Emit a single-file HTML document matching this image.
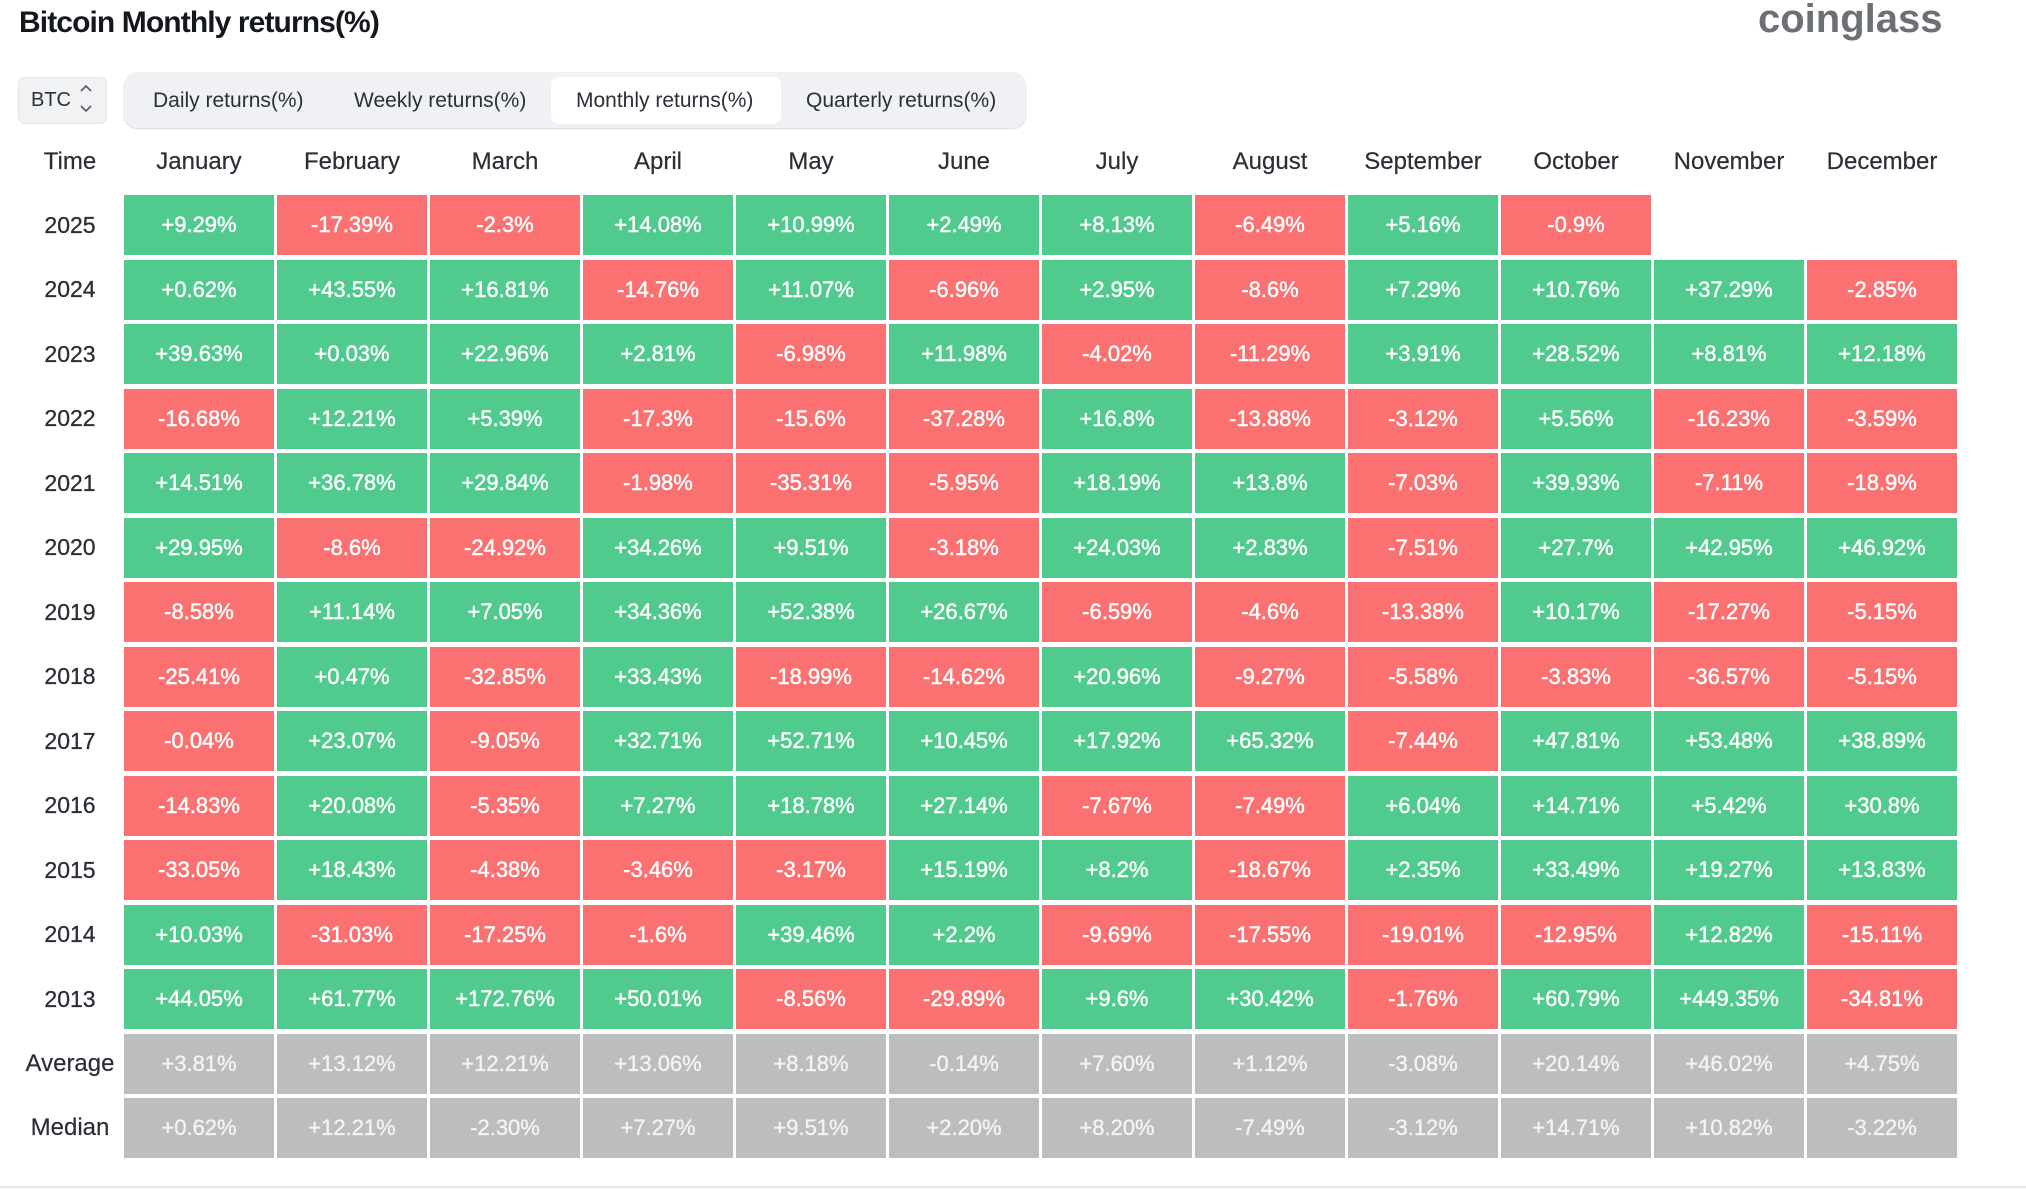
<!DOCTYPE html>
<html><head><meta charset="utf-8">
<style>
*{margin:0;padding:0;box-sizing:border-box}
html,body{width:2026px;height:1189px;background:#fff;overflow:hidden;font-family:"Liberation Sans",sans-serif;position:relative}
.title{position:absolute;left:19px;top:7.6px;font-size:30px;line-height:30px;font-weight:bold;letter-spacing:-0.9px;color:#14181d;white-space:nowrap}
.logo{position:absolute;left:1758px;top:-1px;font-size:40px;line-height:40px;font-weight:bold;color:#6c7075;letter-spacing:0px}
.btc{position:absolute;left:18px;top:77px;width:89px;height:47px;background:#f1f2f4;border:1px solid #e2e4e8;border-radius:7px}
.btc span{position:absolute;left:12px;top:0;line-height:45px;font-size:20px;color:#2b2f36}
.btc svg{position:absolute;left:60px;top:4px}
.tabs{position:absolute;left:123px;top:72px;width:904px;height:56px;background:#f0f1f4;border-radius:15px;box-shadow:0 1.5px 0 #e3e5e9}
.act{position:absolute;left:551px;top:77px;width:230px;height:47px;background:#fff;border-radius:8px}
.tt{position:absolute;top:77px;line-height:47px;font-size:21px;color:#2b2f36;white-space:nowrap}
.hdr{position:absolute;left:19px;top:140px;display:grid;grid-template-columns:102px repeat(12,150px);column-gap:3px;height:43px}
.hdr div{text-align:center;line-height:43px;font-size:24px;color:#2a2e35;white-space:nowrap;-webkit-text-stroke:0.2px #2a2e35}
.grid{position:absolute;left:19px;top:195px;display:grid;grid-template-columns:102px repeat(12,150px);column-gap:3px;row-gap:4.5px;grid-auto-rows:60px}
.grid div{display:flex;align-items:center;justify-content:center;font-size:22px;color:#fff;white-space:nowrap;-webkit-text-stroke:0.45px #fff}
.grid .y{font-size:23px;color:#2a2e35;background:none;-webkit-text-stroke:0.3px #2a2e35}
.grid .l{font-size:24px;color:#2a2e35;background:none;-webkit-text-stroke:0.2px #2a2e35}
.g{background:#50cb8d}
.r{background:#fb7171}
.grid .a{background:#bdbdbd;color:#f4f4f4;-webkit-text-stroke:0.35px #f4f4f4}
.e{background:none}
.line{position:absolute;left:0;top:1186px;width:2026px;height:2px;background:#e6e7e9}
</style></head><body>
<div class="title">Bitcoin Monthly returns(%)</div>
<div class="logo">coinglass</div>
<div class="btc"><span>BTC</span>
<svg width="14" height="36" viewBox="0 0 14 36"><polyline points="2,9 7,4 12,9" fill="none" stroke="#555a61" stroke-width="1.6"/><polyline points="2,24 7,29 12,24" fill="none" stroke="#555a61" stroke-width="1.6"/></svg></div>
<div class="tabs"></div>
<div class="act"></div>
<div class="tt" style="left:153px">Daily returns(%)</div>
<div class="tt" style="left:354px">Weekly returns(%)</div>
<div class="tt" style="left:576px">Monthly returns(%)</div>
<div class="tt" style="left:806px">Quarterly returns(%)</div>
<div class="hdr"><div>Time</div><div>January</div><div>February</div><div>March</div><div>April</div><div>May</div><div>June</div><div>July</div><div>August</div><div>September</div><div>October</div><div>November</div><div>December</div></div>
<div class="grid">
<div class="y">2025</div><div class="g">+9.29%</div><div class="r">-17.39%</div><div class="r">-2.3%</div><div class="g">+14.08%</div><div class="g">+10.99%</div><div class="g">+2.49%</div><div class="g">+8.13%</div><div class="r">-6.49%</div><div class="g">+5.16%</div><div class="r">-0.9%</div><div class="e"></div><div class="e"></div>
<div class="y">2024</div><div class="g">+0.62%</div><div class="g">+43.55%</div><div class="g">+16.81%</div><div class="r">-14.76%</div><div class="g">+11.07%</div><div class="r">-6.96%</div><div class="g">+2.95%</div><div class="r">-8.6%</div><div class="g">+7.29%</div><div class="g">+10.76%</div><div class="g">+37.29%</div><div class="r">-2.85%</div>
<div class="y">2023</div><div class="g">+39.63%</div><div class="g">+0.03%</div><div class="g">+22.96%</div><div class="g">+2.81%</div><div class="r">-6.98%</div><div class="g">+11.98%</div><div class="r">-4.02%</div><div class="r">-11.29%</div><div class="g">+3.91%</div><div class="g">+28.52%</div><div class="g">+8.81%</div><div class="g">+12.18%</div>
<div class="y">2022</div><div class="r">-16.68%</div><div class="g">+12.21%</div><div class="g">+5.39%</div><div class="r">-17.3%</div><div class="r">-15.6%</div><div class="r">-37.28%</div><div class="g">+16.8%</div><div class="r">-13.88%</div><div class="r">-3.12%</div><div class="g">+5.56%</div><div class="r">-16.23%</div><div class="r">-3.59%</div>
<div class="y">2021</div><div class="g">+14.51%</div><div class="g">+36.78%</div><div class="g">+29.84%</div><div class="r">-1.98%</div><div class="r">-35.31%</div><div class="r">-5.95%</div><div class="g">+18.19%</div><div class="g">+13.8%</div><div class="r">-7.03%</div><div class="g">+39.93%</div><div class="r">-7.11%</div><div class="r">-18.9%</div>
<div class="y">2020</div><div class="g">+29.95%</div><div class="r">-8.6%</div><div class="r">-24.92%</div><div class="g">+34.26%</div><div class="g">+9.51%</div><div class="r">-3.18%</div><div class="g">+24.03%</div><div class="g">+2.83%</div><div class="r">-7.51%</div><div class="g">+27.7%</div><div class="g">+42.95%</div><div class="g">+46.92%</div>
<div class="y">2019</div><div class="r">-8.58%</div><div class="g">+11.14%</div><div class="g">+7.05%</div><div class="g">+34.36%</div><div class="g">+52.38%</div><div class="g">+26.67%</div><div class="r">-6.59%</div><div class="r">-4.6%</div><div class="r">-13.38%</div><div class="g">+10.17%</div><div class="r">-17.27%</div><div class="r">-5.15%</div>
<div class="y">2018</div><div class="r">-25.41%</div><div class="g">+0.47%</div><div class="r">-32.85%</div><div class="g">+33.43%</div><div class="r">-18.99%</div><div class="r">-14.62%</div><div class="g">+20.96%</div><div class="r">-9.27%</div><div class="r">-5.58%</div><div class="r">-3.83%</div><div class="r">-36.57%</div><div class="r">-5.15%</div>
<div class="y">2017</div><div class="r">-0.04%</div><div class="g">+23.07%</div><div class="r">-9.05%</div><div class="g">+32.71%</div><div class="g">+52.71%</div><div class="g">+10.45%</div><div class="g">+17.92%</div><div class="g">+65.32%</div><div class="r">-7.44%</div><div class="g">+47.81%</div><div class="g">+53.48%</div><div class="g">+38.89%</div>
<div class="y">2016</div><div class="r">-14.83%</div><div class="g">+20.08%</div><div class="r">-5.35%</div><div class="g">+7.27%</div><div class="g">+18.78%</div><div class="g">+27.14%</div><div class="r">-7.67%</div><div class="r">-7.49%</div><div class="g">+6.04%</div><div class="g">+14.71%</div><div class="g">+5.42%</div><div class="g">+30.8%</div>
<div class="y">2015</div><div class="r">-33.05%</div><div class="g">+18.43%</div><div class="r">-4.38%</div><div class="r">-3.46%</div><div class="r">-3.17%</div><div class="g">+15.19%</div><div class="g">+8.2%</div><div class="r">-18.67%</div><div class="g">+2.35%</div><div class="g">+33.49%</div><div class="g">+19.27%</div><div class="g">+13.83%</div>
<div class="y">2014</div><div class="g">+10.03%</div><div class="r">-31.03%</div><div class="r">-17.25%</div><div class="r">-1.6%</div><div class="g">+39.46%</div><div class="g">+2.2%</div><div class="r">-9.69%</div><div class="r">-17.55%</div><div class="r">-19.01%</div><div class="r">-12.95%</div><div class="g">+12.82%</div><div class="r">-15.11%</div>
<div class="y">2013</div><div class="g">+44.05%</div><div class="g">+61.77%</div><div class="g">+172.76%</div><div class="g">+50.01%</div><div class="r">-8.56%</div><div class="r">-29.89%</div><div class="g">+9.6%</div><div class="g">+30.42%</div><div class="r">-1.76%</div><div class="g">+60.79%</div><div class="g">+449.35%</div><div class="r">-34.81%</div>
<div class="l">Average</div><div class="a">+3.81%</div><div class="a">+13.12%</div><div class="a">+12.21%</div><div class="a">+13.06%</div><div class="a">+8.18%</div><div class="a">-0.14%</div><div class="a">+7.60%</div><div class="a">+1.12%</div><div class="a">-3.08%</div><div class="a">+20.14%</div><div class="a">+46.02%</div><div class="a">+4.75%</div>
<div class="l">Median</div><div class="a">+0.62%</div><div class="a">+12.21%</div><div class="a">-2.30%</div><div class="a">+7.27%</div><div class="a">+9.51%</div><div class="a">+2.20%</div><div class="a">+8.20%</div><div class="a">-7.49%</div><div class="a">-3.12%</div><div class="a">+14.71%</div><div class="a">+10.82%</div><div class="a">-3.22%</div>
</div>
<div class="line"></div>
</body></html>
